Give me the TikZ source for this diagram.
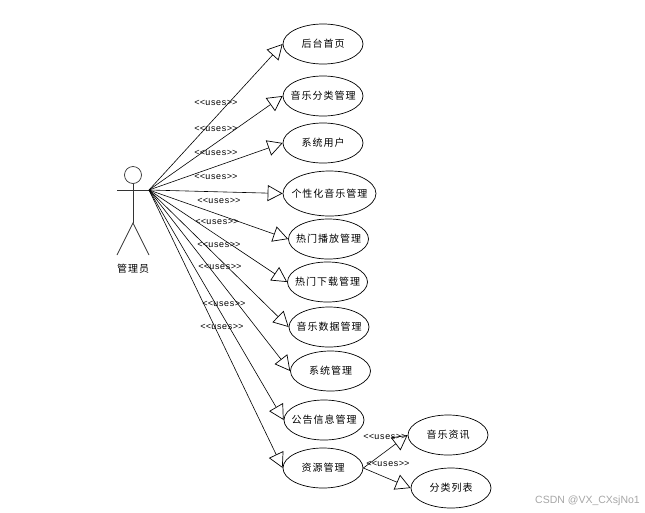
\documentclass[tikz,border=0pt]{standalone}
\usepackage{fontspec}
\usetikzlibrary{arrows.meta,shapes.geometric}
\newfontfamily\cjkf[LetterSpace=10]{Noto Sans CJK SC}
\newfontfamily\usesf{Liberation Mono}
\newfontfamily\markf{Liberation Sans}
\newcommand{\uctext}[1]{\makebox[0pt]{\raisebox{-0.8pt}{#1}}}
\tikzset{
  usecase/.style={draw=black,line width=0.7pt,ellipse,inner sep=0pt,minimum width=80pt,minimum height=40pt,font=\fontsize{10}{12}\cjkf},
  usecasewide/.style={usecase,minimum width=93pt,minimum height=45pt},
  uselabel/.style={inner sep=0pt,font=\fontsize{9}{10}\usesf},
  uses/.style={draw=black,line width=0.6pt,-{Triangle[open,length=15pt,width=16pt,line width=0.7pt]}},
  limb/.style={draw=black!80,line width=0.8pt},
}
\begin{document}
\begin{tikzpicture}[x=1pt,y=-1pt]
\useasboundingbox (0,0) rectangle (645,512);
% actor
\node[draw=black!80,line width=0.7pt,circle,inner sep=0pt,minimum size=17pt] (head) at (133,175) {};
\coordinate (hip) at (133,223);
\coordinate (handL) at (117,190);
\coordinate (actor) at (149,190);
\coordinate (footL) at (117,255);
\coordinate (footR) at (149,255);
\draw[limb] (head.south) -- (hip);
\draw[limb] (handL) -- (actor);
\draw[limb] (footL) -- (hip) -- (footR);
\node[inner sep=0pt,font=\fontsize{10}{12}\cjkf] (actorname) at (133,268.5) {管理员};
% use cases
\node[usecase] (a) at (323,44) {\uctext{后台首页}};
\node[usecase] (b) at (323,96) {\uctext{音乐分类管理}};
\node[usecase] (c) at (323,143) {\uctext{系统用户}};
\node[usecasewide] (d) at (329.5,193.5) {\uctext{个性化音乐管理}};
\node[usecase] (e) at (328.5,239) {\uctext{热门播放管理}};
\node[usecase] (f) at (327.5,282) {\uctext{热门下载管理}};
\node[usecase] (g) at (329,327) {\uctext{音乐数据管理}};
\node[usecase] (h) at (330.5,371) {\uctext{系统管理}};
\node[usecase] (i) at (324,420) {\uctext{公告信息管理}};
\node[usecase] (j) at (323,468) {\uctext{资源管理}};
\node[usecase] (k) at (448,435) {\uctext{音乐资讯}};
\node[usecase] (l) at (451,488) {\uctext{分类列表}};
% connectors
\foreach \t in {a,b,c,d,e,f,g,h,i,j} \draw[uses] (actor) -- (\t.west);
\draw[uses] (j.east) -- (k.west);
\draw[uses] (j.east) -- (l.west);
% labels
\node[uselabel] (u1) at (216,103) {<{}<uses>{}>};
\node[uselabel] (u2) at (216,129) {<{}<uses>{}>};
\node[uselabel] (u3) at (216,153) {<{}<uses>{}>};
\node[uselabel] (u4) at (216,177) {<{}<uses>{}>};
\node[uselabel] (u5) at (219,200.5) {<{}<uses>{}>};
\node[uselabel] (u6) at (217,222) {<{}<uses>{}>};
\node[uselabel] (u7) at (219,245) {<{}<uses>{}>};
\node[uselabel] (u8) at (220,267) {<{}<uses>{}>};
\node[uselabel] (u9) at (224,303.5) {<{}<uses>{}>};
\node[uselabel] (u10) at (222,326.5) {<{}<uses>{}>};
\node[uselabel] (u11) at (385,437) {<{}<uses>{}>};
\node[uselabel] (u12) at (388,463.5) {<{}<uses>{}>};
\node[inner sep=0pt,anchor=east,text=black!35,font=\fontsize{10.5}{12}\markf] (wm) at (640,501) {CSDN @VX\_CXsjNo1};
\end{tikzpicture}
\end{document}
